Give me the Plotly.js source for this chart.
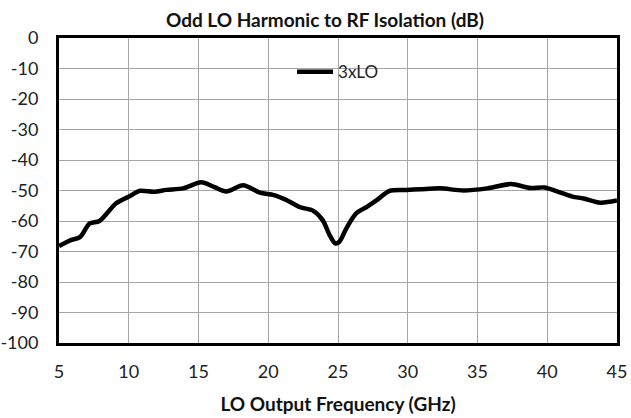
<!DOCTYPE html>
<html>
<head>
<meta charset="utf-8">
<script src="https://cdn.plot.ly/plotly-3.0.1.min.js"></script>
<style>html,body{margin:0;padding:0;background:#fff;}#chart{width:631px;height:418px;}</style>
</head>
<body>
<div id="chart"></div>
<script>
const freqGHz = [5.0, 5.9, 6.5, 7.2, 7.9, 9.1, 10.1, 10.8, 11.8, 12.7, 13.9, 15.2, 16.1, 17.0, 18.2, 19.4, 20.4, 21.3, 22.3, 23.2, 23.9, 24.4, 24.8, 25.1, 25.6, 26.3, 27.1, 27.8, 28.7, 29.9, 30.9, 32.3, 34.0, 35.7, 37.4, 38.8, 39.8, 40.7, 41.8, 42.6, 43.8, 45.0];
const isolation3xLO = [-68.2, -66.2, -65.3, -60.8, -60.0, -54.2, -51.8, -50.1, -50.4, -49.8, -49.3, -47.3, -48.8, -50.3, -48.3, -50.7, -51.5, -53.1, -55.5, -56.6, -59.7, -64.6, -67.3, -66.8, -62.4, -57.5, -55.3, -53.1, -50.1, -49.8, -49.6, -49.3, -50.0, -49.3, -47.9, -49.2, -49.0, -50.3, -52.0, -52.6, -54.0, -53.3];
const seriesName = '3xLO';
const xTicks = [5, 10, 15, 20, 25, 30, 35, 40, 45];
const yTicks = [0, -10, -20, -30, -40, -50, -60, -70, -80, -90, -100];

const font = 'Lato, "Open Sans", sans-serif';
const trace = {
  x: freqGHz, y: isolation3xLO, name: seriesName, type: 'scatter', mode: 'lines',
  line: {color: '#000', width: 4.5, shape: 'spline', smoothing: 0.8},
  showlegend: true
};
const layout = {
  width: 631, height: 418,
  margin: {l: 59, r: 14, t: 38, b: 75},
  paper_bgcolor: '#fff', plot_bgcolor: '#fff',
  font: {family: font, size: 18, color: '#222'},
  title: {text: '<b>Odd LO Harmonic to RF Isolation (dB)</b>', font: {family: font, size: 19, color: '#111'}, x: 0.515, xanchor: 'center', yref: 'container', y: 0.952, yanchor: 'middle'},
  xaxis: {
    range: [5, 45], tickvals: xTicks, ticktext: xTicks.map(String),
    showgrid: true, gridcolor: '#a6a6a6', gridwidth: 1,
    showline: true, linecolor: '#000', linewidth: 3, mirror: true,
    ticks: '', ticklabelstandoff: 10, zeroline: false,
    tickfont: {family: font, size: 18, color: '#222'},
    title: {text: '<b>LO Output Frequency (GHz)</b>', font: {family: font, size: 19, color: '#111'}, standoff: 18}
  },
  yaxis: {
    range: [-100, 0], tickvals: yTicks, ticktext: yTicks.map(String),
    showgrid: true, gridcolor: '#a6a6a6', gridwidth: 1,
    showline: true, linecolor: '#000', linewidth: 3, mirror: true,
    ticks: '', ticklabelstandoff: 14, zeroline: false,
    tickfont: {family: font, size: 18, color: '#222'}
  },
  legend: {x: 0.4176, y: 0.947, xanchor: 'left', yanchor: 'top', itemwidth: 36, bgcolor: 'rgba(255,255,255,0)', borderwidth: 0, font: {family: font, size: 17, color: '#222'}},
  shapes: [{type: 'rect', layer: 'below', xref: 'x', yref: 'y', x0: 19.3, x1: 29.85, y0: -17, y1: -4.9, fillcolor: '#fff', line: {width: 0}}],
  showlegend: true
};
Plotly.newPlot('chart', [trace], layout, {staticPlot: true, displayModeBar: false});
</script>
</body>
</html>
